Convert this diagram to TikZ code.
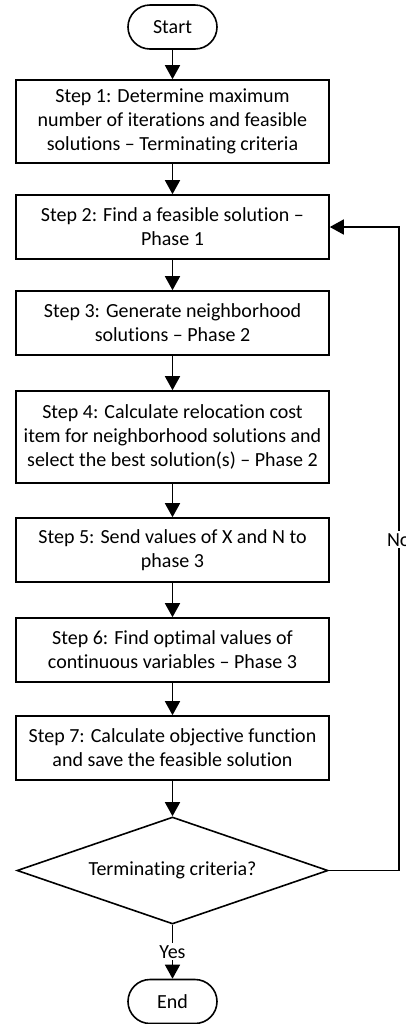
\documentclass[tikz,border=0pt]{standalone}
\usepackage{fontspec}
\setmainfont{Carlito}[Ligatures={TeX,NoCommon}]
\usetikzlibrary{arrows.meta,shapes.geometric}
\tikzset{
  % terminals, process steps and the test
  term/.style    = {rectangle, rounded corners=11pt, draw, line width=0.8pt,
                    minimum width=44.5pt, minimum height=22pt, inner sep=0pt,
                    font=\fontsize{10}{12}\selectfont},
  stepbox/.style = {rectangle, draw, line width=0.8pt, minimum width=156.5pt,
                    minimum height=#1, inner sep=2pt, align=center,
                    font=\fontsize{10}{12}\selectfont},
  stepbox/.default = 32pt,
  test/.style    = {diamond, draw, line width=0.8pt, aspect=2.9, inner sep=0pt,
                    minimum width=155.5pt, minimum height=53.5pt,
                    font=\fontsize{10}{12}\selectfont},
  arr/.style     = {-{Triangle[length=7pt,width=7.5pt]}, line width=0.8pt},
  lbl/.style     = {fill=white, inner sep=1pt, font=\fontsize{10}{12}\selectfont},
}
\begin{document}
\begin{tikzpicture}[x=0.5pt,y=-0.5pt]
\useasboundingbox (0,0) rectangle (406,1024);
\node[term] (start) at (172.5,27) {Start};
\node[stepbox=41.5pt] (s1) at (172.5,121.5)
  {Step 1: Determine maximum\\number of iterations and feasible\\solutions -- Terminating criteria};
\node[stepbox] (s2) at (172.5,227) {Step 2: Find a feasible solution --\\Phase 1};
\node[stepbox] (s3) at (172.5,323) {Step 3: Generate neighborhood\\solutions -- Phase 2};
\node[stepbox=46pt] (s4) at (172.5,437)
  {Step 4: Calculate relocation cost\\item for neighborhood solutions and\\select the best solution(s) -- Phase 2};
\node[stepbox] (s5) at (172.5,550) {Step 5: Send values of X and N to\\phase 3};
\node[stepbox] (s6) at (172.5,650) {Step 6: Find optimal values of\\continuous variables -- Phase 3};
\node[stepbox] (s7) at (172.5,748) {Step 7: Calculate objective function\\and save the feasible solution};
\node[test] (chk) at (172.5,870.5) {Terminating criteria?};
\node[term] (end) at (172.5,1001.5) {End};
% main flow
\foreach \a/\b in {start/s1,s1/s2,s2/s3,s3/s4,s4/s5,s5/s6,s6/s7,s7/chk}
  \draw[arr] (\a) -- (\b);
\draw[arr] (chk.south) -- node[lbl, pos=0.5] {Yes} (end.north);
% loop back
\draw[arr] (chk.east) -- ++(70,0) |- node[lbl, pos=0.257] {No} (s2.east);
\end{tikzpicture}
\end{document}
